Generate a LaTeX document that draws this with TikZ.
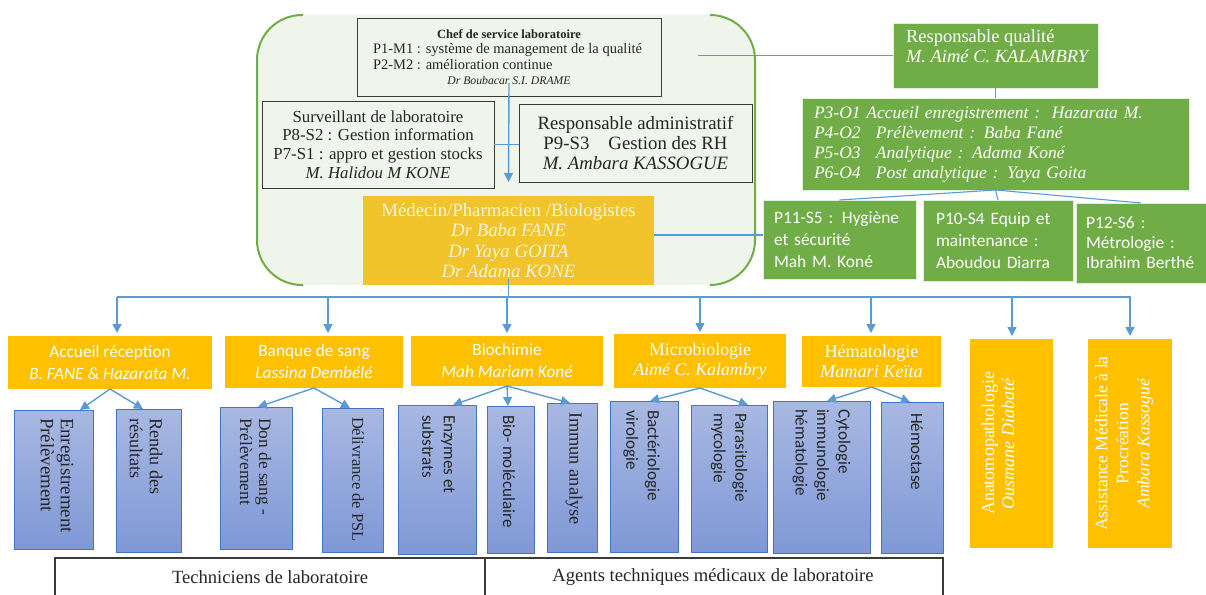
\documentclass[tikz,border=0pt]{standalone}
\usepackage{fontspec}
\setmainfont{Liberation Serif}
\newfontfamily\calib{Carlito}
\usetikzlibrary{arrows.meta,calc}
\definecolor{qgreen}{HTML}{70AD47}
\definecolor{bggreen}{HTML}{F0F5EB}
\definecolor{qorange}{HTML}{FFC000}
\definecolor{medyellow}{HTML}{F2C42B}
\definecolor{cream}{HTML}{FBF3DC}
\definecolor{lblue}{HTML}{5B9BD5}
\definecolor{bbord}{HTML}{4472C4}
\definecolor{btop}{HTML}{A8B8E2}
\definecolor{bbot}{HTML}{7F98D6}
\definecolor{dgray}{HTML}{3A3A3A}
\definecolor{txt}{HTML}{262626}
\begin{document}
\begin{tikzpicture}[x=1pt,y=-1pt,
  every node/.style={inner sep=0pt, outer sep=0pt},
  conn/.style={draw=lblue, line width=1.1pt},
  bus/.style={draw=lblue, line width=1.4pt},
  arr/.style={draw=lblue, line width=1.4pt, -{Triangle[length=9pt,width=9pt]}},
  wbox/.style={draw=dgray, fill=bggreen, line width=0.9pt, text=txt, anchor=north west, align=center},
  gbox/.style={fill=qgreen, draw=white!80!qgreen, line width=0.6pt, text=white, anchor=north west},
  obox/.style={fill=qorange, text=white, anchor=north west, align=center},
  bbox/.style={draw=bbord, line width=0.9pt, top color=btop, bottom color=bbot, anchor=north west},
  vser/.style={rotate=-90, anchor=west, align=left, text=txt},
  vsan/.style={rotate=-90, anchor=west, align=left, text=txt, font=\calib\fontsize{17.1}{21.5}\selectfont},
  sanfont/.style={font=\calib\fontsize{17.3}{22}\selectfont},
]
\useasboundingbox (0,0) rectangle (1206,594);
\fill[white] (0,0) rectangle (1206,594);

% big rounded frame
\fill[bggreen, rounded corners=45pt] (257,15) rectangle (755,285);
\draw[qgreen, line width=2pt, rounded corners=45pt] (303,15) -- (257,15) -- (257,285) -- (303,285);
\draw[qgreen, line width=2pt, rounded corners=45pt] (710,15) -- (755,15) -- (755,285) -- (710,285);

% top boxes
\node[wbox, minimum width=304, minimum height=78, font=\fontsize{14.5}{15.5}\selectfont] (chef) at (357,18)
  {{\fontsize{12.5}{15.5}\selectfont\bfseries Chef de service laboratoire}\\
   \makebox[272pt][l]{P1-M1 : système de management de la qualité}\\
   \makebox[272pt][l]{P2-M2 : amélioration continue}\\
   {\fontsize{11.7}{15.5}\selectfont\itshape Dr Boubacar S.I. DRAME}};

\node[wbox, minimum width=232, minimum height=87, font=\fontsize{16.8}{18.7}\selectfont] (surv) at (262,101)
  {Surveillant de laboratoire\\P8-S2 : Gestion information\\P7-S1 : appro et gestion stocks\\\textit{M. Halidou M KONE}};

\node[wbox, minimum width=233, minimum height=78, font=\fontsize{18.8}{20}\selectfont] (adm) at (519,104)
  {Responsable administratif\\P9-S3\hspace{19pt}Gestion des RH\\\textit{M. Ambara KASSOGUE}};

\node[fill=medyellow, text=cream, anchor=north west, align=center, minimum width=291, minimum height=89,
  font=\fontsize{18.8}{20.3}\selectfont] (med) at (363,196)
  {Médecin/Pharmacien /Biologistes\\\textit{Dr Baba FANE}\\\textit{Dr Yaya GOITA}\\\textit{Dr Adama KONE}};

% quality side
\node[gbox, minimum width=205, minimum height=65] (rq) at (893,23) {};
\node[text=white, anchor=north west, align=left, font=\fontsize{18.5}{20}\selectfont] (rqt) at (906,30)
  {Responsable qualité\\\textit{M. Aimé C. KALAMBRY}};

\node[gbox, minimum width=387, minimum height=92, text width=363, align=left,
  font=\fontsize{17.5}{20}\selectfont\itshape] (proc) at (802,98)
  {P3-O1 Accueil enregistrement :\ \ Hazarata M.\\
   \makebox[62pt][l]{P4-O2}Prélèvement : Baba Fané\\
   \makebox[62pt][l]{P5-O3}Analytique : Adama Koné\\
   \makebox[62pt][l]{P6-O4}Post analytique : Yaya Goita};

\node[gbox, minimum width=153, minimum height=79, text width=131, align=left,
  font=\calib\fontsize{17.4}{22}\selectfont] (p11) at (763,200) {P11-S5 : Hygiène\\et sécurité\\Mah M. Koné};
\node[gbox, minimum width=150, minimum height=81, text width=124, align=left,
  font=\calib\fontsize{17.4}{22}\selectfont] (p10) at (923,200) {P10-S4 Equip et\\maintenance :\\Aboudou Diarra};
\node[gbox, minimum width=130, minimum height=80, text width=110, align=left,
  font=\calib\fontsize{17.4}{20}\selectfont] (p12) at (1076,203) {P12-S6 :\\Métrologie :\\Ibrahim Berthé};

% connectors upper part
\coordinate (rqend) at (698,55.5);
\draw[conn] (rq.west) -- (rqend);
\draw[conn] (rq.south) -- (proc.north);
\draw[conn] (proc.south) -- (p11.north);
\draw[conn] (proc.south) -- (p10.north);
\draw[conn] (proc.south) -- (p12.north);
\draw[conn] (surv.east) -- (surv.east -| adm.west);
\draw[conn] ([yshift=5.5pt]med.east) -- ([yshift=5.5pt]med.east -| p11.west);
\draw[arr] ([yshift=13pt]chef.south) -- ([yshift=14pt]med.north);

% department boxes
\node[obox, sanfont, minimum width=204, minimum height=53] (acc) at (8,336) {Accueil réception\\\textit{B. FANE \& Hazarata M.}};
\node[obox, sanfont, minimum width=178, minimum height=52] (banq) at (225,336) {Banque de sang\\\textit{Lassina Dembélé}};
\node[obox, sanfont, minimum width=192, minimum height=50] (bioc) at (411,336) {Biochimie\\\textit{Mah Mariam Koné}};
\node[obox, font=\fontsize{17.8}{20}\selectfont, minimum width=172, minimum height=54] (micro) at (614,334) {Microbiologie\\\textit{Aimé C. Kalambry}};
\node[obox, font=\fontsize{18.2}{20}\selectfont, minimum width=139, minimum height=51] (hema) at (802,336) {Hématologie\\\textit{Mamari Keïta}};
\node[obox, minimum width=83, minimum height=209] (anat) at (970,339) {};
\node[obox, minimum width=84, minimum height=209] (assist) at (1088,339) {};
\node[rotate=90, text=white, align=center, font=\fontsize{18}{20}\selectfont] (anatt) at (998,443.5)
  {Anatomopathologie\\\textit{Ousmane Diabaté}};
\node[rotate=90, text=white, align=center, font=\fontsize{17.6}{21}\selectfont] (assistt) at (1124,443.5)
  {Assistance Médicale à la\\Procréation\\\textit{Ambara Kassogué}};

% bus
\coordinate (d1) at (117,297);
\coordinate (d2) at (328,297);
\coordinate (d5) at (871,297);
\coordinate (d6) at (1012,297);
\coordinate (d7) at (1130.5,297);
\draw[bus] ([yshift=6pt]med.south) -- (med.south |- d1);
\draw[bus] (d1) -- (d7);
\draw[arr, shorten >=3pt] (d1) -- (d1 |- acc.north);
\draw[arr, shorten >=3pt] (d2) -- (d2 |- banq.north);
\draw[arr, shorten >=3pt] (bioc.north |- d1) -- (bioc.north);
\draw[arr, shorten >=2pt] (micro.north |- d1) -- (micro.north);
\draw[arr, shorten >=3pt] (d5) -- (d5 |- hema.north);
\draw[arr, shorten >=3pt] (d6) -- (d6 |- anat.north);
\draw[arr, shorten >=3pt] (assist.north |- d1) -- (assist.north);

% blue boxes
\node[bbox, minimum width=79, minimum height=139] (enr) at (14,410) {};
\node[bbox, minimum width=65, minimum height=143] (rendu) at (116,409) {};
\node[bbox, minimum width=72, minimum height=142] (don) at (220,407) {};
\node[bbox, minimum width=61, minimum height=144] (deliv) at (322,408) {};
\node[bbox, minimum width=78, minimum height=149] (enz) at (398,405) {};
\node[bbox, minimum width=47, minimum height=147] (bio) at (487,406) {};
\node[bbox, minimum width=50, minimum height=149] (immun) at (547,403) {};
\node[bbox, minimum width=68, minimum height=151] (bact) at (610,401) {};
\node[bbox, minimum width=76, minimum height=147] (para) at (691,405) {};
\node[bbox, minimum width=97, minimum height=152] (cyto) at (773,401) {};
\node[bbox, minimum width=62, minimum height=151] (hemo) at (881,402) {};

\node[vser, font=\fontsize{18.8}{20}\selectfont] (enrt) at (57,418) {Enregistrement\\Prélèvement};
\node[vser, font=\fontsize{18.2}{20}\selectfont] (rendut) at (146,418) {Rendu des\\résultats};
\node[vser, font=\fontsize{17.4}{19}\selectfont] (dont) at (255.5,418) {Don de sang -\\Prélèvement};
\node[vser, font=\fontsize{16.5}{19}\selectfont] (delivt) at (358,417) {Délivrance de PSL};
\node[vsan] (enzt) at (438.5,415) {Enzymes et\\substrats};
\node[vsan] (biot) at (509,415) {Bio- moléculaire};
\node[vser, font=\fontsize{18.4}{20}\selectfont] (immunt) at (574,412) {Immun analyse};
\node[vsan] (bactt) at (641.5,410) {Bactériologie\\virologie};
\node[vsan] (parat) at (729,413) {Parasitologie\\mycologie};
\node[vsan] (cytot) at (821.5,409) {Cytologie\\immunologie\\hématologie};
\node[vsan] (hemot) at (917,413) {Hémostase};

% department to sub-unit arrows
\draw[arr] (acc.south) -- ([xshift=26.5pt]enr.north);
\draw[arr] (acc.south) -- ([xshift=-5.5pt]rendu.north);
\draw[arr] (banq.south) -- ([xshift=2pt]don.north);
\draw[arr] (banq.south) -- ([xshift=-2.5pt]deliv.north);
\draw[arr] (bioc.south) -- ([xshift=16pt]enz.north);
\draw[arr] (bioc.south) -- ([xshift=-2.5pt]bio.north);
\draw[arr] (bioc.south) -- ([xshift=-2pt]immun.north);
\draw[arr] (micro.south) -- ([xshift=6pt]bact.north);
\draw[arr] (micro.south) -- ([xshift=19pt]para.north);
\draw[arr] (hema.south) -- ([xshift=5.5pt]cyto.north);
\draw[arr] (hema.south) -- ([xshift=-2pt]hemo.north);

% bottom staff frame
\node[draw=dgray, line width=1.2pt, anchor=north west, minimum width=430, minimum height=50] (tech) at (55,558) {};
\node[draw=dgray, line width=1.2pt, anchor=north west, minimum width=458, minimum height=50] (agents) at (485,558) {};
\node[text=txt, font=\fontsize{18.6}{20}\selectfont] (techt) at (270,577) {Techniciens de laboratoire};
\node[text=txt, font=\fontsize{18.6}{20}\selectfont] (agentst) at (713,577) {Agents techniques médicaux de laboratoire};
\end{tikzpicture}
\end{document}
